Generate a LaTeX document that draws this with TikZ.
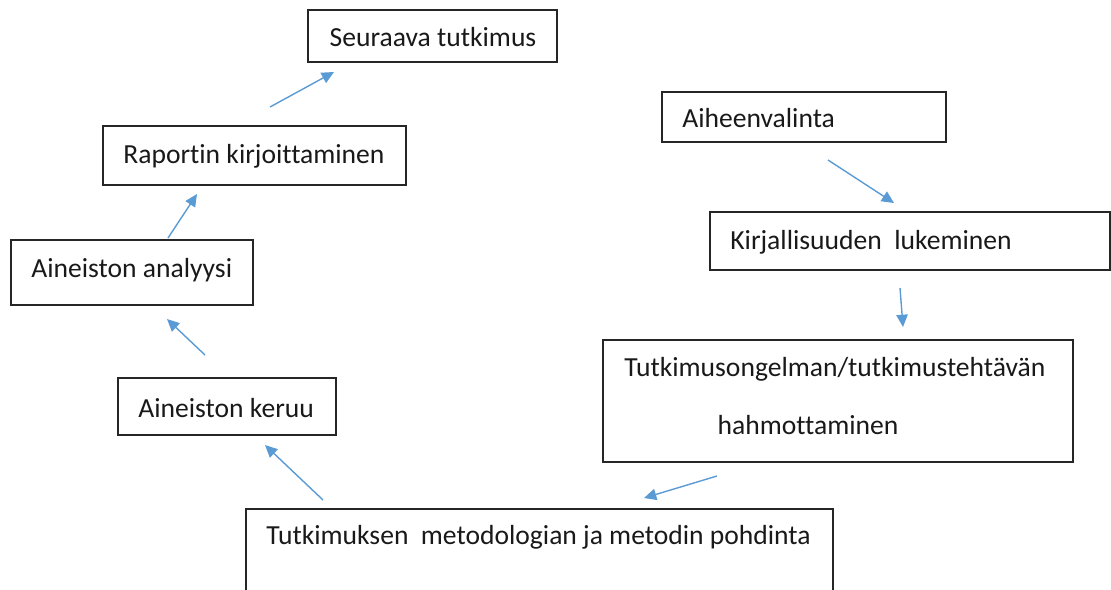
\documentclass[tikz,border=0pt]{standalone}
\usepackage{fontspec}
\setmainfont{Carlito}[Ligatures=NoCommon]
\usetikzlibrary{arrows.meta}
\definecolor{arrowblue}{HTML}{5B9BD5}
\tikzset{
  box/.style={draw=black!85, line width=0.8pt, inner sep=0pt},
  lbl/.style={anchor=west, inner sep=0pt, font=\fontsize{15.7}{18}\selectfont, text=black!90},
  clbl/.style={anchor=center, inner sep=0pt, font=\fontsize{15.7}{18}\selectfont, text=black!90},
  flow/.style={draw=arrowblue, line width=0.8pt, -{Triangle[length=7pt,width=6.5pt]}}
}
\begin{document}
\begin{tikzpicture}[x=0.02cm,y=-0.02cm]
\useasboundingbox (0,0) rectangle (1111,589);
% boxes
\node[box, minimum width=249*0.02cm, minimum height=52*0.02cm] (seur) at (432.5,36) {};
\node[box, minimum width=303*0.02cm, minimum height=59*0.02cm] (rap) at (254.5,155.5) {};
\node[box, minimum width=242*0.02cm, minimum height=65*0.02cm] (anal) at (132,272.5) {};
\node[box, minimum width=218*0.02cm, minimum height=57*0.02cm] (ker) at (227,406.5) {};
\node[box, minimum width=284*0.02cm, minimum height=50*0.02cm] (aihe) at (804,117) {};
\node[box, minimum width=400*0.02cm, minimum height=58*0.02cm] (kirj) at (910,241) {};
\node[box, minimum width=470*0.02cm, minimum height=122*0.02cm] (tutk) at (838,401) {};
\draw[draw=black!85, line width=0.8pt] (246,590) -- (246,509) coordinate (metTL) -- (833,509) coordinate (metTR) -- (833,590);
% labels
\node[clbl] (tSeur) at (433,37) {Seuraava tutkimus};
\node[lbl] (tRap) at (123,156) {Raportin kirjoittaminen};
\node[lbl] (tAnal) at (31,270) {Aineiston analyysi};
\node[lbl] (tKer) at (138,408) {Aineiston keruu};
\node[lbl] (tAihe) at (682,118) {Aiheenvalinta};
\node[lbl] (tKirj) at (730,242) {Kirjallisuuden\ \ lukeminen};
\node[lbl] (tTutk1) at (624,369) {Tutkimusongelman/tutkimustehtävän};
\node[clbl] (tTutk2) at (808,425) {hahmottaminen};
\node[lbl] (tMet) at (266,537) {Tutkimuksen\ \ metodologian ja metodin pohdinta};
% arrow end points
\coordinate (a1s) at (270,107); \coordinate (a1e) at (334,72);
\coordinate (a2s) at (168,238); \coordinate (a2e) at (197,194);
\coordinate (a3s) at (205,355); \coordinate (a3e) at (167,319);
\coordinate (a4s) at (323,500); \coordinate (a4e) at (265,445);
\coordinate (a5s) at (717,476); \coordinate (a5e) at (644,498);
\coordinate (a6s) at (900,288); \coordinate (a6e) at (903,327);
\coordinate (a7s) at (828,160); \coordinate (a7e) at (894,203);
\draw[flow] (a1s) -- (a1e);
\draw[flow] (a2s) -- (a2e);
\draw[flow] (a3s) -- (a3e);
\draw[flow] (a4s) -- (a4e);
\draw[flow] (a5s) -- (a5e);
\draw[flow] (a6s) -- (a6e);
\draw[flow] (a7s) -- (a7e);
\end{tikzpicture}
\end{document}
